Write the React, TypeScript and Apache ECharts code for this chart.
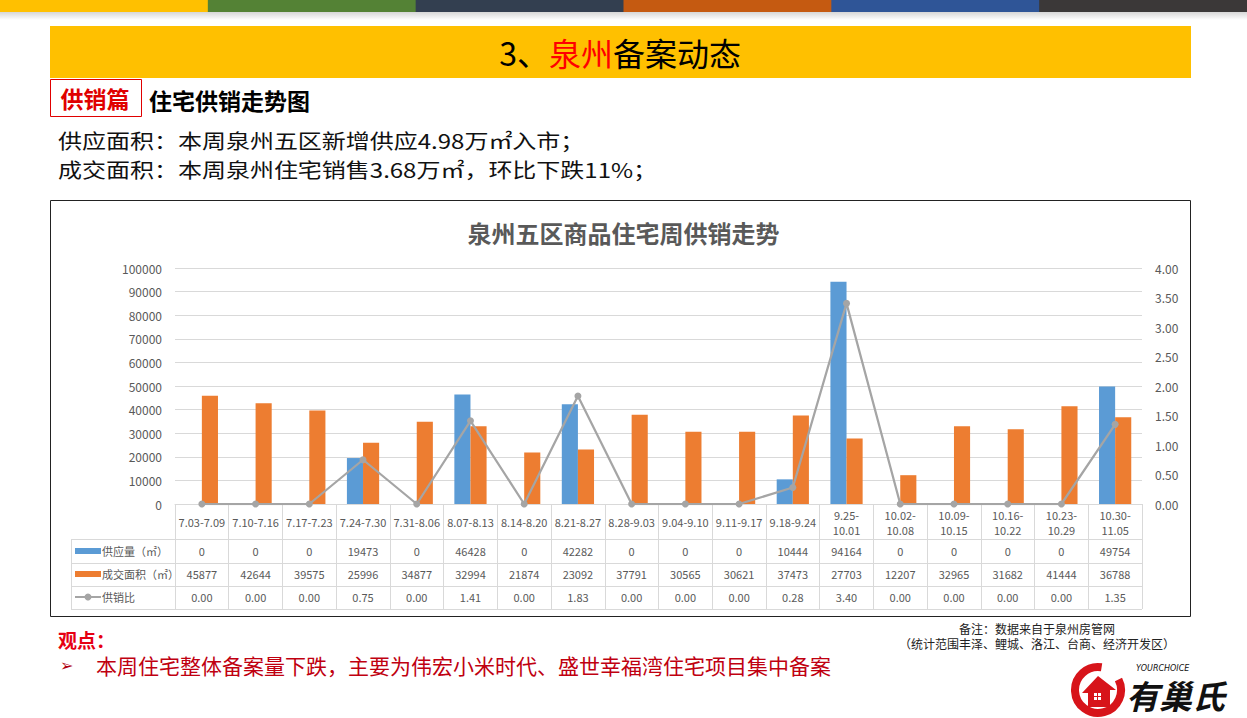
import React, { useEffect, useRef } from "react";
import * as echarts from "echarts";

const categories = [
  "7.03-7.09", "7.10-7.16", "7.17-7.23", "7.24-7.30", "7.31-8.06", "8.07-8.13",
  "8.14-8.20", "8.21-8.27", "8.28-9.03", "9.04-9.10", "9.11-9.17", "9.18-9.24",
  "9.25-\n10.01", "10.02-\n10.08", "10.09-\n10.15", "10.16-\n10.22", "10.23-\n10.29", "10.30-\n11.05",
];
const supply = [0, 0, 0, 19473, 0, 46428, 0, 42282, 0, 0, 0, 10444, 94164, 0, 0, 0, 0, 49754];
const sales = [45877, 42644, 39575, 25996, 34877, 32994, 21874, 23092, 37791, 30565, 30621, 37473, 27703, 12207, 32965, 31682, 41444, 36788];
const ratio = [0, 0, 0, 0.75, 0, 1.41, 0, 1.83, 0, 0, 0, 0.28, 3.4, 0, 0, 0, 0, 1.35];

const seriesNames = ["供应量（㎡）", "成交面积（㎡）", "供销比"];
const leftAxis = { min: 0, max: 100000, interval: 10000 };
const rightAxis = { min: 0, max: 4, interval: 0.5 };

const chartTitle = "泉州五区商品住宅周供销走势";
const headLine1 = "供应面积：本周泉州五区新增供应4.98万㎡入市；";
const headLine2 = "成交面积：本周泉州住宅销售3.68万㎡，环比下跌11%；";
const viewTitle = "观点：";
const viewText = "本周住宅整体备案量下跌，主要为伟宏小米时代、盛世幸福湾住宅项目集中备案";
const note1 = "备注：数据来自于泉州房管网";
const note2 = "（统计范围丰泽、鲤城、洛江、台商、经济开发区）";

const FONT = "'Noto Sans CJK SC', 'Noto Sans', sans-serif";
const BLUE = "#5B9BD5";
const ORANGE = "#ED7D31";
const GRAY = "#A5A5A5";
const TXT = "#595959";
const GRID = "#D9D9D9";

const GRID_L = 175;
const GRID_R = 1142;
const GRID_T = 268;
const GRID_B = 504;

function rowAxis(data: string[], offset: number) {
  return {
    type: "category",
    gridIndex: 0,
    position: "bottom",
    offset,
    data,
    axisLine: { show: false },
    axisTick: { show: false },
    splitLine: { show: false },
    axisLabel: {
      interval: 0,
      margin: 0,
      verticalAlign: "middle",
      fontSize: 11,
      color: TXT,
      fontFamily: FONT,
    },
  };
}

export default function App() {
  const ref = useRef<HTMLDivElement>(null);

  useEffect(() => {
    if (!ref.current) return;
    const chart = echarts.init(ref.current, undefined, { renderer: "svg" });

    const topColors = ["#FFC000", "#548235", "#333F50", "#C55A11", "#2F5597", "#3B3838"];
    const segW = 1247 / topColors.length;
    const graphics: any[] = [];
    topColors.forEach((c, i) => {
      graphics.push({
        type: "rect",
        shape: { x: i * segW, y: 0, width: segW + 1, height: 12 },
        style: { fill: c },
        silent: true,
      });
    });
    graphics.push({
      type: "rect",
      shape: { x: 0, y: 12, width: 1247, height: 8 },
      style: {
        fill: new echarts.graphic.LinearGradient(0, 0, 0, 1, [
          { offset: 0, color: "rgba(0,0,0,0.16)" },
          { offset: 1, color: "rgba(0,0,0,0)" },
        ]),
      },
      silent: true,
    });
    // yellow banner
    graphics.push({
      type: "rect",
      shape: { x: 50, y: 26, width: 1141, height: 52 },
      style: { fill: "#FFC000" },
    });
    graphics.push({
      type: "text",
      x: 620,
      y: 52,
      style: {
        text: "{a|3、}{r|泉州}{a|备案动态}",
        align: "center",
        verticalAlign: "middle",
        rich: {
          a: { fontSize: 32, fill: "#000", fontFamily: FONT },
          r: { fontSize: 32, fill: "#FF0000", fontFamily: FONT },
        },
      },
    });
    // section tag
    graphics.push({
      type: "rect",
      shape: { x: 50.5, y: 79.5, width: 91, height: 37 },
      style: { fill: "#fff", stroke: "#E00000", lineWidth: 1 },
    });
    graphics.push({
      type: "text",
      x: 95,
      y: 98,
      style: {
        text: "供销篇",
        align: "center",
        verticalAlign: "middle",
        fontSize: 23,
        fontWeight: "bold",
        fill: "#E00000",
        fontFamily: FONT,
      },
    });
    graphics.push({
      type: "text",
      x: 149,
      y: 100,
      style: {
        text: "住宅供销走势图",
        align: "left",
        verticalAlign: "middle",
        fontSize: 23,
        fontWeight: "bold",
        fill: "#000",
        fontFamily: FONT,
      },
    });
    graphics.push({
      type: "text",
      x: 58,
      y: 140,
      scaleX: 1.2,
      style: { text: headLine1, verticalAlign: "middle", fontSize: 20, fill: "#111", fontFamily: FONT },
    });
    graphics.push({
      type: "text",
      x: 58,
      y: 169,
      scaleX: 1.2,
      style: { text: headLine2, verticalAlign: "middle", fontSize: 20, fill: "#111", fontFamily: FONT },
    });
    // chart frame
    graphics.push({
      type: "rect",
      shape: { x: 50.5, y: 200.5, width: 1140, height: 416 },
      style: { fill: "none", stroke: "#222", lineWidth: 1 },
      z: -1,
    });
    // table lines
    [539.5, 563.5, 586.5, 609.5].forEach((y) => {
      graphics.push({
        type: "line",
        shape: { x1: 71, y1: y, x2: GRID_R, y2: y },
        style: { stroke: GRID, lineWidth: 1 },
      });
    });
    graphics.push({
      type: "line",
      shape: { x1: 71.5, y1: 539.5, x2: 71.5, y2: 609.5 },
      style: { stroke: GRID, lineWidth: 1 },
    });
    // legend cells
    graphics.push({ type: "rect", shape: { x: 75, y: 548, width: 26, height: 6 }, style: { fill: BLUE } });
    graphics.push({ type: "rect", shape: { x: 75, y: 571, width: 26, height: 6 }, style: { fill: ORANGE } });
    graphics.push({
      type: "line",
      shape: { x1: 75, y1: 597, x2: 101, y2: 597 },
      style: { stroke: GRAY, lineWidth: 2 },
    });
    graphics.push({ type: "circle", shape: { cx: 88, cy: 597, r: 3.5 }, style: { fill: GRAY } });
    [551, 574, 597].forEach((y, i) => {
      graphics.push({
        type: "text",
        x: 102,
        y,
        style: { text: seriesNames[i], verticalAlign: "middle", fontSize: 11, fill: TXT, fontFamily: FONT },
      });
    });
    // bottom texts
    graphics.push({
      type: "text",
      x: 58,
      y: 639,
      style: { text: viewTitle, verticalAlign: "middle", fontSize: 19, fontWeight: "bold", fill: "#E60012", fontFamily: FONT },
    });
    graphics.push({
      type: "text",
      x: 60,
      y: 665,
      style: { text: "➢", verticalAlign: "middle", fontSize: 16, fill: "#B00010", fontFamily: "'DejaVu Sans', sans-serif" },
    });
    graphics.push({
      type: "text",
      x: 96,
      y: 665,
      style: { text: viewText, verticalAlign: "middle", fontSize: 21, fill: "#C00010", fontFamily: FONT },
    });
    graphics.push({
      type: "text",
      x: 1037,
      y: 628,
      style: { text: note1, align: "center", verticalAlign: "middle", fontSize: 12, fill: "#222", fontFamily: FONT },
    });
    graphics.push({
      type: "text",
      x: 1037,
      y: 643,
      style: { text: note2, align: "center", verticalAlign: "middle", fontSize: 12, fill: "#222", fontFamily: FONT },
    });
    // logo
    graphics.push({
      type: "arc",
      shape: { cx: 1098, cy: 690, r: 23, startAngle: -0.15 * Math.PI, endAngle: 1.55 * Math.PI, clockwise: true },
      style: { stroke: "#D7141A", lineWidth: 8, fill: "none" },
    });
    graphics.push({
      type: "polygon",
      shape: {
        points: [
          [1082, 693], [1098, 676], [1116, 690], [1110, 690], [1110, 707], [1088, 707], [1088, 693],
        ],
      },
      style: { fill: "#D7141A" },
    });
    graphics.push({ type: "rect", shape: { x: 1094, y: 693, width: 7, height: 7 }, style: { fill: "#fff" } });
    graphics.push({
      type: "line",
      shape: { x1: 1097.5, y1: 693, x2: 1097.5, y2: 700 },
      style: { stroke: "#D7141A", lineWidth: 1 },
    });
    graphics.push({
      type: "line",
      shape: { x1: 1094, y1: 696.5, x2: 1101, y2: 696.5 },
      style: { stroke: "#D7141A", lineWidth: 1 },
    });
    graphics.push({
      type: "text",
      x: 1136,
      y: 668,
      style: { text: "YOURCHOICE", verticalAlign: "middle", fontSize: 8, fontStyle: "italic", fill: "#111", fontFamily: "'DejaVu Sans', sans-serif" },
    });
    graphics.push({
      type: "text",
      x: 1126,
      y: 695,
      style: { text: "有巢氏", verticalAlign: "middle", fontSize: 33, fontWeight: "bold", fontStyle: "italic", fill: "#111", fontFamily: FONT },
    });

    const option: any = {
      animation: false,
      backgroundColor: "#fff",
      textStyle: { fontFamily: FONT },
      title: {
        text: chartTitle,
        left: "center",
        top: 215,
        textStyle: { fontSize: 24, fontWeight: "bold", color: TXT, fontFamily: FONT },
      },
      grid: {
        left: GRID_L,
        right: 1247 - GRID_R,
        top: GRID_T,
        bottom: 718 - GRID_B,
      },
      xAxis: [
        {
          type: "category",
          data: categories,
          position: "bottom",
          axisLine: { show: true, lineStyle: { color: GRID, width: 1 } },
          axisTick: { show: true, length: 105, lineStyle: { color: GRID, width: 1 } },
          axisLabel: {
            interval: 0,
            margin: 18,
            verticalAlign: "middle",
            lineHeight: 15,
            fontSize: 11,
            color: TXT,
            fontFamily: FONT,
          },
        },
        rowAxis(supply.map((v) => String(v)), 47),
        rowAxis(sales.map((v) => String(v)), 70),
        rowAxis(ratio.map((v) => v.toFixed(2)), 93),
      ],
      yAxis: [
        {
          type: "value",
          min: leftAxis.min,
          max: leftAxis.max,
          interval: leftAxis.interval,
          axisLine: { show: false },
          axisTick: { show: false },
          splitLine: { show: true, lineStyle: { color: GRID, width: 1 } },
          axisLabel: {
            fontSize: 12,
            color: TXT,
            margin: 13,
            fontFamily: FONT,
            formatter: (v: number) => String(v),
          },
        },
        {
          type: "value",
          min: rightAxis.min,
          max: rightAxis.max,
          interval: rightAxis.interval,
          position: "right",
          axisLine: { show: false },
          axisTick: { show: false },
          splitLine: { show: false },
          axisLabel: {
            fontSize: 12,
            color: TXT,
            margin: 13,
            fontFamily: FONT,
            formatter: (v: number) => v.toFixed(2),
          },
        },
      ],
      series: [
        {
          name: seriesNames[0],
          type: "bar",
          xAxisIndex: 0,
          yAxisIndex: 0,
          data: supply,
          itemStyle: { color: BLUE },
          barGap: "0%",
          barCategoryGap: "40%",
        },
        {
          name: seriesNames[1],
          type: "bar",
          xAxisIndex: 0,
          yAxisIndex: 0,
          data: sales,
          itemStyle: { color: ORANGE },
          barGap: "0%",
          barCategoryGap: "40%",
        },
        {
          name: seriesNames[2],
          type: "line",
          xAxisIndex: 0,
          yAxisIndex: 1,
          data: ratio,
          symbol: "circle",
          symbolSize: 7,
          lineStyle: { color: GRAY, width: 2.25 },
          itemStyle: { color: GRAY },
          z: 5,
        },
      ],
      graphic: { elements: graphics },
    };

    chart.setOption(option);
    return () => {
      chart.dispose();
    };
  }, []);

  return (
    <div
      ref={ref}
      style={{ position: "absolute", left: 0, top: 0, width: 1247, height: 718, background: "#fff" }}
    />
  );
}
